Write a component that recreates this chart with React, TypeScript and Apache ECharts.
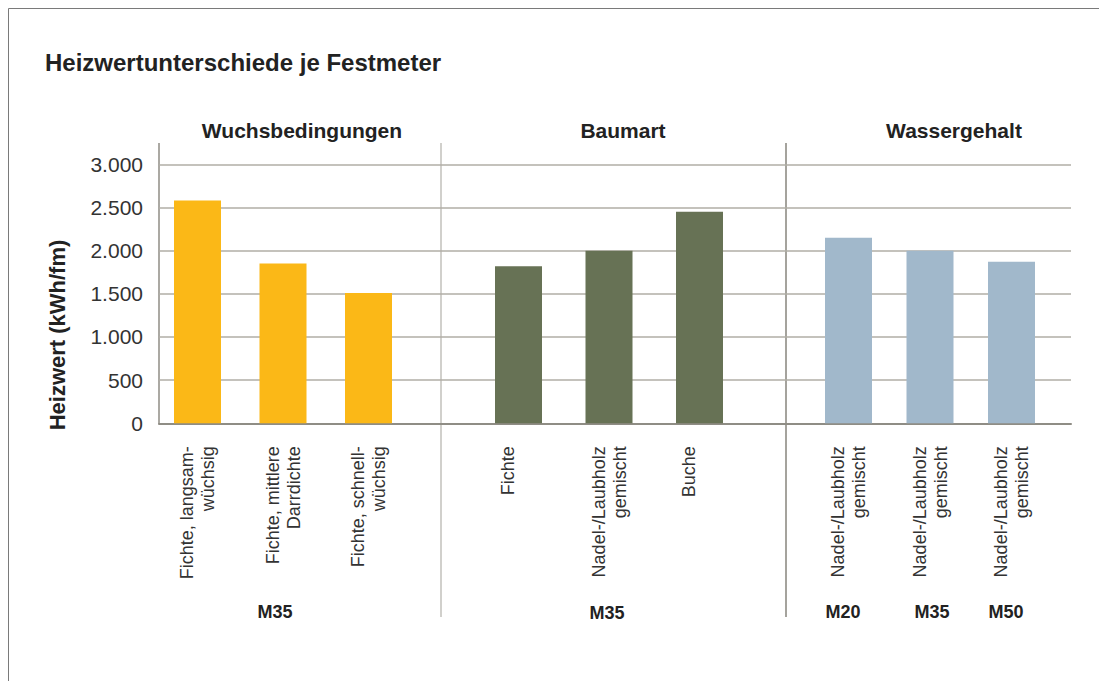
import React, { useEffect, useRef } from "react";
import * as echarts from "echarts";

const chartTitle = "Heizwertunterschiede je Festmeter";
const yAxisTitle = "Heizwert (kWh/fm)";
const groupTitles = ["Wuchsbedingungen", "Baumart", "Wassergehalt"];

const wuchsCategories = ["Fichte, langsam-\nwüchsig", "Fichte, mittlere\nDarrdichte", "Fichte, schnell-\nwüchsig"];
const wuchsValues = [2580, 1850, 1510];

const baumCategories = ["Fichte", "Nadel-/Laubholz\ngemischt", "Buche"];
const baumValues = [1820, 2000, 2450];

const wasserCategories = ["Nadel-/Laubholz\ngemischt", "Nadel-/Laubholz\ngemischt", "Nadel-/Laubholz\ngemischt"];
const wasserValues = [2150, 2000, 1870];

const moistureWuchs = ["M35"];
const moistureBaum = ["M35"];
const moistureWasser = ["M20", "M35", "M50"];

const yMin = 0;
const yMax = 3000;
const yInterval = 500;

const colors = ["#fbb817", "#677255", "#a1b8cb"];
const FONT = "'Liberation Sans', Arial, Helvetica, sans-serif";

const fmt = (v: number) => String(v).replace(/\B(?=(\d{3})+(?!\d))/g, ".");

export default function App() {
  const ref = useRef<HTMLDivElement>(null);
  useEffect(() => {
    if (!ref.current) return;
    const chart = echarts.init(ref.current, null, { renderer: "svg" });
    const top = 164.3;
    const bottom = 681 - 423.3;
    const groupGrids = [
      { left: 154.75, width: 256.5 },
      { left: 473.25, width: 271.5 },
      { left: 807.75, width: 244.5 },
    ];
    // single-line labels sit left of the bar centre in the reference
    const toAxisData = (list: string[]) =>
      list.map((c) =>
        c.indexOf("\n") < 0 ? { value: c, textStyle: { verticalAlign: "bottom" } } : c
      );
    const cats = [wuchsCategories, baumCategories, wasserCategories];
    const vals = [wuchsValues, baumValues, wasserValues];
    const pads = [[0, 0, 10, 0], [0, 0, 0, 0], [0, 0, 0, 0]];

    const grids: any[] = [{ left: 159, right: 28, top, bottom }];
    const xAxes: any[] = [
      {
        gridIndex: 0,
        type: "value",
        min: 0,
        max: 1,
        axisLine: { show: true, onZero: false, lineStyle: { color: "#8f8d85", width: 2 } },
        axisTick: { show: false },
        axisLabel: { show: false },
        splitLine: { show: false },
      },
    ];
    const yAxes: any[] = [
      {
        gridIndex: 0,
        type: "value",
        min: yMin,
        max: yMax,
        interval: yInterval,
        axisLine: { show: false },
        axisTick: { show: false },
        axisLabel: {
          formatter: (v: number) => fmt(v),
          fontSize: 21,
          fontFamily: FONT,
          color: "#333",
          margin: 16,
        },
        splitLine: { lineStyle: { color: "#b1aea6", width: 1.5 } },
      },
    ];
    const series: any[] = [];
    groupGrids.forEach((g, i) => {
      grids.push({ left: g.left, width: g.width, top, bottom });
      xAxes.push({
        gridIndex: i + 1,
        type: "category",
        data: toAxisData(cats[i]),
        axisLine: { show: false },
        axisTick: { show: false },
        splitLine: { show: false },
        axisLabel: {
          rotate: 90,
          interval: 0,
          fontSize: 18,
          lineHeight: 21,
          fontFamily: FONT,
          color: "#333",
          margin: 23,
          padding: pads[i],
        },
      });
      yAxes.push({
        gridIndex: i + 1,
        type: "value",
        min: yMin,
        max: yMax,
        interval: yInterval,
        show: false,
        splitLine: { show: false },
      });
      series.push({
        type: "bar",
        xAxisIndex: i + 1,
        yAxisIndex: i + 1,
        data: vals[i],
        barWidth: 47,
        itemStyle: { color: colors[i] },
        z: 1,
      });
    });

    const boldText = (text: string, x: number, y: number, size: number, align = "center") => ({
      type: "text",
      x,
      y,
      silent: true,
      style: {
        text,
        fontSize: size,
        fontWeight: "bold",
        fontFamily: FONT,
        fill: "#222",
        align,
        verticalAlign: "middle",
      },
    });

    const graphic: any[] = [
      {
        type: "rect",
        shape: { x: 8.5, y: 8.5, width: 1300, height: 900 },
        style: { fill: "none", stroke: "#7a7a7a", lineWidth: 1 },
        silent: true,
      },
      boldText(chartTitle, 45, 62, 24, "left"),
      {
        type: "text",
        x: 57,
        y: 335,
        rotation: Math.PI / 2,
        silent: true,
        style: {
          text: yAxisTitle,
          fontSize: 22,
          fontWeight: "bold",
          fontFamily: FONT,
          fill: "#222",
          align: "center",
          verticalAlign: "middle",
        },
      },
      boldText(groupTitles[0], 302, 130, 21),
      boldText(groupTitles[1], 623, 130, 21),
      boldText(groupTitles[2], 954, 130, 21),
      boldText(moistureWuchs[0], 275, 612, 18),
      boldText(moistureBaum[0], 607, 613, 18),
      boldText(moistureWasser[0], 843, 612, 18),
      boldText(moistureWasser[1], 932, 612, 18),
      boldText(moistureWasser[2], 1006, 612, 18),
      {
        type: "line",
        shape: { x1: 159, y1: 143, x2: 159, y2: 424 },
        style: { stroke: "#8f8d85", lineWidth: 1.5 },
        silent: true,
      },
      {
        type: "line",
        shape: { x1: 441, y1: 143, x2: 441, y2: 617 },
        style: { stroke: "#c2c1bb", lineWidth: 1.5 },
        silent: true,
      },
      {
        type: "line",
        shape: { x1: 786, y1: 143, x2: 786, y2: 617 },
        style: { stroke: "#87857c", lineWidth: 1.5 },
        silent: true,
      },
    ];

    chart.setOption({
      animation: false,
      backgroundColor: "#fff",
      grid: grids,
      xAxis: xAxes,
      yAxis: yAxes,
      series,
      graphic,
    });
    return () => chart.dispose();
  }, []);
  return (
    <div
      ref={ref}
      style={{ position: "fixed", left: 0, top: 0, width: 1099, height: 681, background: "#fff" }}
    />
  );
}
